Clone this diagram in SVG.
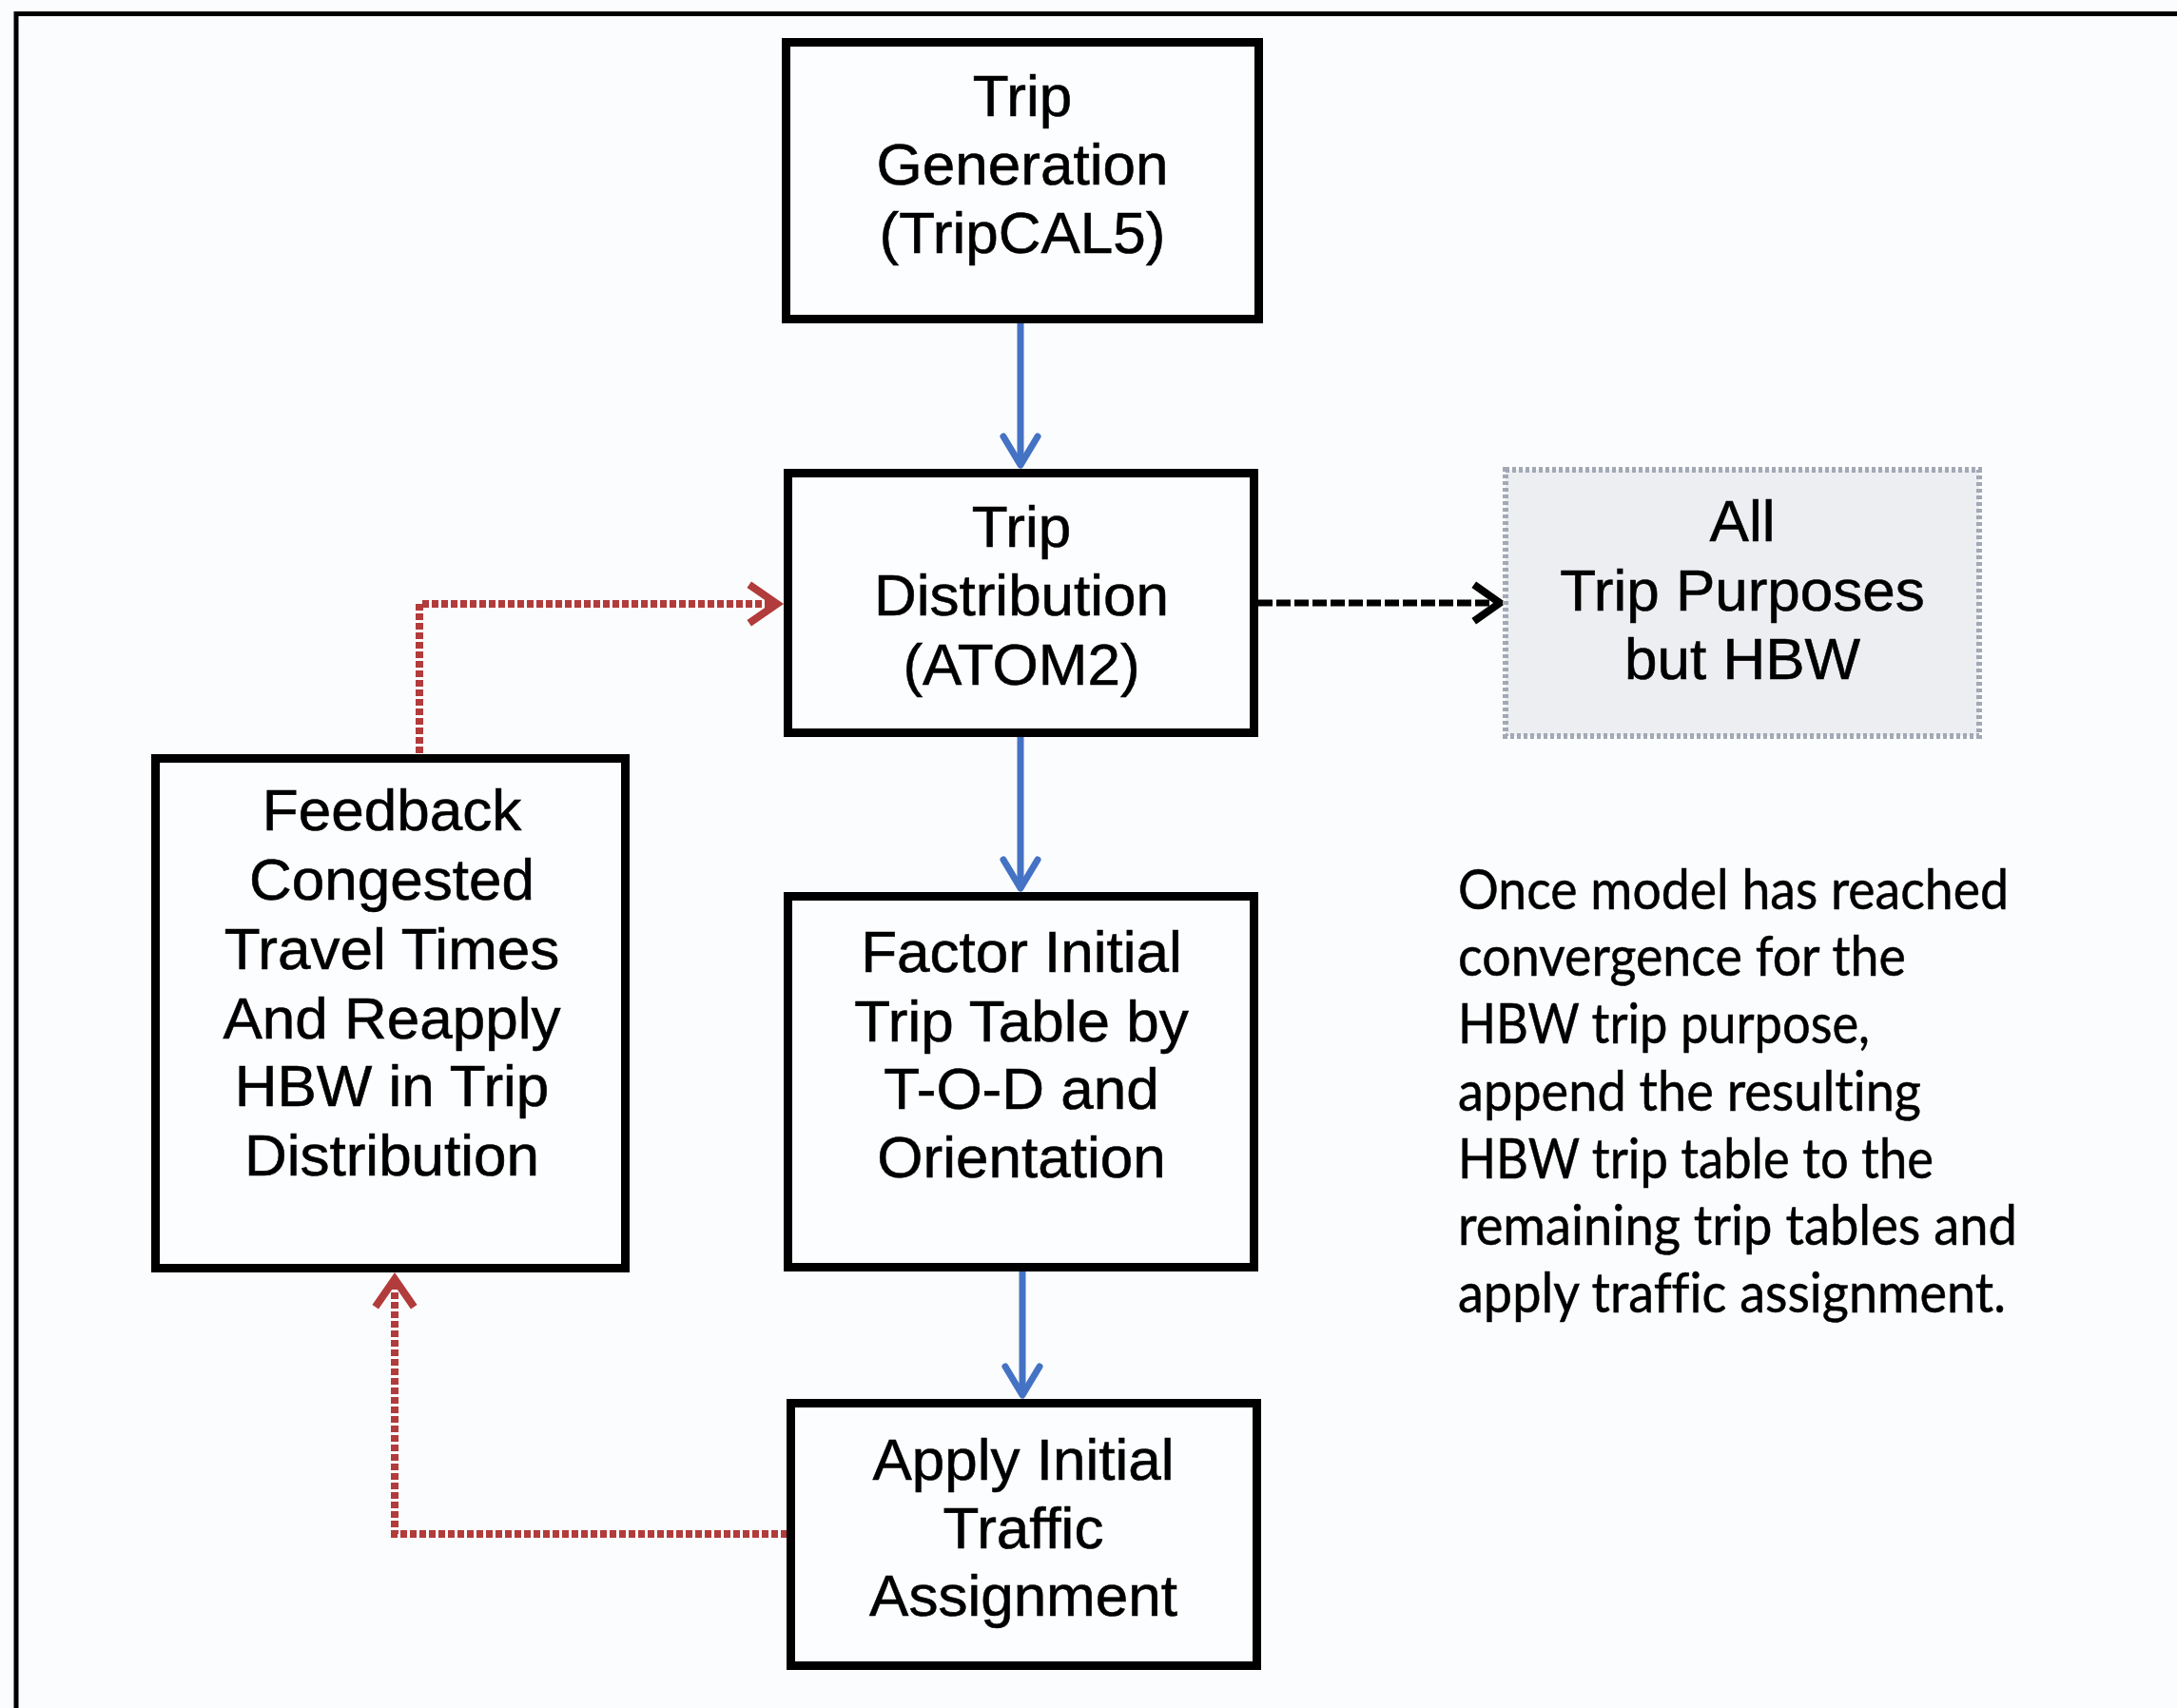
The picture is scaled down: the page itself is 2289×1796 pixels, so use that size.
<svg xmlns="http://www.w3.org/2000/svg" width="2289" height="1796" viewBox="0 0 2289 1796">
<defs>
<style>
.box{fill:#fcfdfe;stroke:#000;stroke-width:9}
.lbl{font-family:"Liberation Sans",Arial,sans-serif;font-size:62px;fill:#000;text-anchor:middle;stroke:#000;stroke-width:0.6}
.note{font-family:Lato,"Open Sans",sans-serif;font-size:58px;fill:#000;font-variant-ligatures:none;stroke:#000;stroke-width:0.5}
.blue{fill:none;stroke:#4472c4;stroke-width:7}
.red{fill:none;stroke:#b23b3b;stroke-width:8;stroke-dasharray:7 3}
.blk{fill:none;stroke:#000;stroke-width:7;stroke-dasharray:15 4}
</style>
<marker id="ahBlue" markerUnits="userSpaceOnUse" markerWidth="60" markerHeight="60" orient="auto" overflow="visible" refX="0" refY="0">
<path d="M -30 -18 L 0 0 L -30 18" fill="none" stroke="#4472c4" stroke-width="7" stroke-linecap="round" stroke-linejoin="round"/>
</marker>
<marker id="ahRed" markerUnits="userSpaceOnUse" markerWidth="60" markerHeight="60" orient="auto" overflow="visible" refX="0" refY="0">
<path d="M -26 -18 L 0 0 L -26 18" fill="none" stroke="#b23b3b" stroke-width="8" stroke-linecap="square" stroke-linejoin="miter"/>
</marker>
<marker id="ahBlk" markerUnits="userSpaceOnUse" markerWidth="60" markerHeight="60" orient="auto" overflow="visible" refX="0" refY="0">
<path d="M -24 -17 L 0 0 L -24 17" fill="none" stroke="#000" stroke-width="8" stroke-linecap="square" stroke-linejoin="miter"/>
</marker>
</defs>
<rect x="0" y="0" width="2289" height="1796" fill="#fbfcfd"/>
<g id="frame">
<line x1="17" y1="14.5" x2="2289" y2="14.5" stroke="#000" stroke-width="5"/>
<line x1="17" y1="12" x2="17" y2="1796" stroke="#000" stroke-width="5"/>
</g>
<g id="connectors">
<path class="blue" d="M 1073 340 V 489" marker-end="url(#ahBlue)"/>
<path class="blue" d="M 1073 775 V 934" marker-end="url(#ahBlue)"/>
<path class="blue" d="M 1075 1337 V 1467" marker-end="url(#ahBlue)"/>
<path class="blk" d="M 1323 634 H 1577" marker-end="url(#ahBlk)"/>
<path class="red" d="M 441 792 V 635 H 817" marker-end="url(#ahRed)"/>
<path class="red" d="M 828 1613 H 415 V 1345" marker-end="url(#ahRed)"/>
</g>
<g id="tripGeneration">
<rect class="box" x="826.5" y="44.5" width="497" height="291"/>
<text class="lbl" x="1075" y="122">Trip</text>
<text class="lbl" x="1075" y="194">Generation</text>
<text class="lbl" x="1075" y="266">(TripCAL5)</text>
</g>
<g id="tripDistribution">
<rect class="box" x="828.5" y="497.5" width="490" height="273"/>
<text class="lbl" x="1074" y="575">Trip</text>
<text class="lbl" x="1074" y="647">Distribution</text>
<text class="lbl" x="1074" y="720">(ATOM2)</text>
</g>
<g id="allPurposes">
<rect x="1583" y="494" width="498" height="280" fill="#eceef2" stroke="#a3a8b5" stroke-width="6" stroke-dasharray="4 3"/>
<text class="lbl" x="1832" y="569">All</text>
<text class="lbl" x="1832" y="642">Trip Purposes</text>
<text class="lbl" x="1832" y="714">but HBW</text>
</g>
<g id="factorTripTable">
<rect class="box" x="828.5" y="942.5" width="490" height="390"/>
<text class="lbl" x="1074" y="1022">Factor Initial</text>
<text class="lbl" x="1074" y="1095">Trip Table by</text>
<text class="lbl" x="1074" y="1166">T-O-D and</text>
<text class="lbl" x="1074" y="1238">Orientation</text>
</g>
<g id="trafficAssignment">
<rect class="box" x="831.5" y="1475.5" width="490" height="276"/>
<text class="lbl" x="1076" y="1556">Apply Initial</text>
<text class="lbl" x="1076" y="1628">Traffic</text>
<text class="lbl" x="1076" y="1699">Assignment</text>
</g>
<g id="feedback">
<rect class="box" x="163.5" y="797.5" width="494" height="536"/>
<text class="lbl" x="412" y="873">Feedback</text>
<text class="lbl" x="412" y="946">Congested</text>
<text class="lbl" x="412" y="1019">Travel Times</text>
<text class="lbl" x="412" y="1092">And Reapply</text>
<text class="lbl" x="412" y="1163">HBW in Trip</text>
<text class="lbl" x="412" y="1236">Distribution</text>
</g>
<g id="note">
<text class="note" x="1533" y="956" textLength="579" lengthAdjust="spacingAndGlyphs">Once model has reached</text>
<text class="note" x="1533" y="1026" textLength="471" lengthAdjust="spacingAndGlyphs">convergence for the</text>
<text class="note" x="1533" y="1097" textLength="433" lengthAdjust="spacingAndGlyphs">HBW trip purpose,</text>
<text class="note" x="1533" y="1168" textLength="487" lengthAdjust="spacingAndGlyphs">append the resulting</text>
<text class="note" x="1533" y="1239" textLength="500" lengthAdjust="spacingAndGlyphs">HBW trip table to the</text>
<text class="note" x="1533" y="1309" textLength="588" lengthAdjust="spacingAndGlyphs">remaining trip tables and</text>
<text class="note" x="1533" y="1380" textLength="576" lengthAdjust="spacingAndGlyphs">apply traffic assignment.</text>
</g>
</svg>
